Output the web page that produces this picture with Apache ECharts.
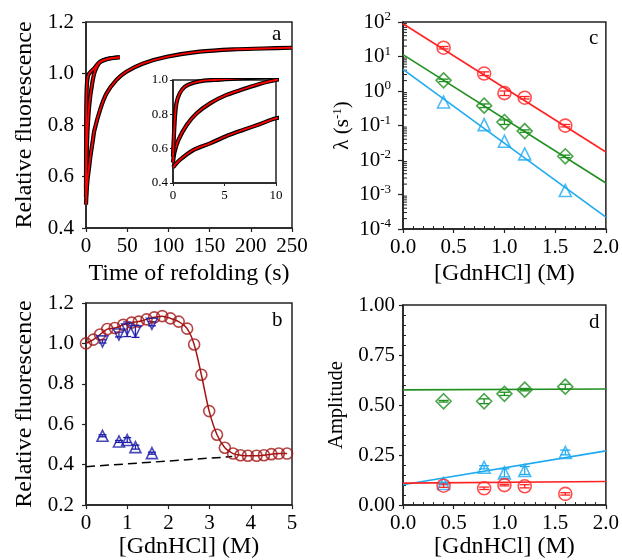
<!DOCTYPE html>
<html><head><meta charset="utf-8">
<script src="https://cdn.jsdelivr.net/npm/echarts@6/dist/echarts.min.js"></script>
<style>html,body{margin:0;padding:0;background:#fff}#c{width:622px;height:560px}</style>
</head><body><div id="c"></div>
<script>
// ---------- Panel a: refolding kinetic traces ----------
const aTimeA  = [0, 0.17, 0.33, 0.65, 1.16, 2.0, 3.0, 4.0, 6.0, 10, 17, 29, 41];
const aFluorA = [0.553, 0.767, 0.864, 0.922, 0.961, 0.984, 0.996, 1.0, 1.008, 1.02, 1.046, 1.059, 1.063];
const aTimeB  = [0, 0.15, 0.52, 1.33, 2.3, 3.6, 5.2, 6.8, 8.4, 10, 13, 17, 29, 41];
const aFluorB = [0.52, 0.58, 0.65, 0.738, 0.806, 0.864, 0.913, 0.946, 0.977, 1.0, 1.025, 1.044, 1.058, 1.063];
const aTimeC  = [0, 0.65, 1.97, 3.6, 5.2, 6.8, 8.4, 10, 17, 25, 37, 49, 69.5, 98, 138, 179, 215, 250];
const aFluorC = [0.491, 0.534, 0.592, 0.631, 0.674, 0.709, 0.742, 0.777, 0.858, 0.923, 0.975, 1.007, 1.039, 1.065, 1.085, 1.094, 1.097, 1.100];

// ---------- Panel b: equilibrium / kinetic amplitudes ----------
const bDen      = [0, 0.178, 0.34, 0.517, 0.70, 0.905, 1.107, 1.28, 1.47, 1.656, 1.85, 2.05, 2.25, 2.455, 2.625, 2.80, 2.99, 3.18, 3.37, 3.57, 3.75, 3.93, 4.14, 4.32, 4.50, 4.68, 4.88];
const bEquil    = [1.0, 1.019, 1.044, 1.071, 1.076, 1.092, 1.103, 1.108, 1.119, 1.129, 1.135, 1.124, 1.108, 1.073, 0.995, 0.845, 0.665, 0.548, 0.484, 0.455, 0.447, 0.444, 0.444, 0.447, 0.452, 0.455, 0.455];
const bKinDen   = [0.4, 0.8, 1.0, 1.2, 1.6];
const bFinal    = [1.01, 1.044, 1.07, 1.06, 1.097];
const bFinalErr = [0.008, 0.012, 0.036, 0.03, 0.01];
const bInitial  = [0.543, 0.515, 0.522, 0.487, 0.457];
const bInitErr  = [0.005, 0.005, 0.012, 0.01, 0.005];
const bBaseX    = [0, 3.55];
const bBaseY    = [0.39, 0.44];

// ---------- Panel c: rate constants ----------
const cDen      = [0.4, 0.8, 1.0, 1.2, 1.6];
const cFast     = [18, 3.2, 0.87, 0.64, 0.099];
const cMid      = [2.04, 0.376, 0.126, 0.069, 0.0128];
const cSlow     = [0.48, 0.106, 0.035, 0.015, 0.0013];
const cRelErr   = [0.08, 0.12, 0.15, 0.08, 0.08];
const cFitX     = [0, 2.0];
const cFitFast  = [89, 0.017];
const cFitMid   = [11.3, 0.00215];
const cFitSlow  = [4.25, 0.00022];
const cLogMinor = [];
for (let e = -4; e < 2; e++) for (let m = 2; m <= 9; m++) cLogMinor.push(m * Math.pow(10, e));

// ---------- Panel d: amplitudes ----------
const dDen      = [0.4, 0.8, 1.0, 1.2, 1.6];
const dMid      = [0.519, 0.519, 0.556, 0.577, 0.592];
const dMidErr   = [0.004, 0.012, 0.008, 0.006, 0.012];
const dSlow     = [0.108, 0.189, 0.161, 0.173, 0.263];
const dSlowErr  = [0.006, 0.008, 0.02, 0.02, 0.012];
const dFast     = [0.097, 0.084, 0.10, 0.094, 0.056];
const dFastErr  = [0.008, 0.006, 0.004, 0.008, 0.006];
const dFitX     = [0, 2.0];
const dFitMid   = [0.576, 0.58];
const dFitSlow  = [0.102, 0.271];
const dFitFast  = [0.11, 0.118];

const FONT = "'Liberation Serif','Times New Roman',serif";
const zip = (xs, ys) => xs.map((x, i) => [x, ys[i]]);
const MAROON = '#a31515', NAVY = '#1c1ca6', RED = '#ff2222', GREEN = '#1f8f1f', SKY = '#1eaaf0';
const AX = '#222';

function errSeries(xi, yi, xs, ys, es, color, cap, rel) {
  return {
    type: 'custom', xAxisIndex: xi, yAxisIndex: yi, z: 4, silent: true,
    data: xs.map((x, i) => [x, ys[i], rel ? ys[i] * es[i] : es[i]]),
    encode: {x: 0, y: 1},
    renderItem: (params, api) => {
      const x = api.value(0), y = api.value(1), e = api.value(2);
      const c = api.coord([x, y]), t = api.coord([x, y + e]), b = api.coord([x, y - e]);
      const st = {stroke: color, lineWidth: 1.3};
      return {type: 'group', children: [
        {type: 'line', shape: {x1: c[0], y1: t[1], x2: c[0], y2: b[1]}, style: st},
        {type: 'line', shape: {x1: c[0] - cap, y1: t[1], x2: c[0] + cap, y2: t[1]}, style: st},
        {type: 'line', shape: {x1: c[0] - cap, y1: b[1], x2: c[0] + cap, y2: b[1]}, style: st}
      ]};
    }
  };
}
function scatter(xi, yi, xs, ys, color, symbol, size, rot) {
  return {type: 'scatter', xAxisIndex: xi, yAxisIndex: yi, data: zip(xs, ys), symbol, symbolSize: size,
    symbolRotate: rot || 0, z: 5,
    itemStyle: {color: 'rgba(255,255,255,0)', borderColor: color, borderWidth: 1.6}};
}
function line(xi, yi, xs, ys, color, w, extra) {
  return Object.assign({type: 'line', xAxisIndex: xi, yAxisIndex: yi, data: zip(xs, ys), showSymbol: false,
    symbol: 'none', lineStyle: {color, width: w}, clip: true, z: 3}, extra || {});
}
function trace(xi, yi, xs, ys) {
  return [line(xi, yi, xs, ys, '#000', 4.2, {smooth: 0.3}), line(xi, yi, xs, ys, '#ff0000', 1.8, {smooth: 0.3, z: 4})];
}

function valAxis(gi, o) {
  return Object.assign({
    type: 'value', gridIndex: gi, nameLocation: 'middle',
    nameTextStyle: {fontFamily: FONT, fontSize: 24, color: '#000'},
    axisLine: {show: true, onZero: false, lineStyle: {color: AX, width: 1.5}},
    axisTick: {show: true, length: 4, lineStyle: {color: AX, width: 1.2}},
    axisLabel: {fontFamily: FONT, fontSize: 21, color: '#000', margin: 8},
    splitLine: {show: false}
  }, o);
}
const gridBase = {show: true, borderColor: AX, borderWidth: 1.5, backgroundColor: 'transparent'};
const minor = {show: true, splitNumber: 5, length: -3, lineStyle: {color: AX, width: 1}};
const lab = (o) => Object.assign({fontFamily: FONT, fontSize: 21, color: '#000', margin: 8}, o);

const option = {
  animation: false,
  backgroundColor: '#fff',
  grid: [
    Object.assign({left: 86, top: 22, width: 206, height: 206}, gridBase),
    Object.assign({}, gridBase, {left: 173, top: 80, width: 103, height: 103, backgroundColor: '#fff', z: 3}),
    Object.assign({left: 86, top: 303, width: 206, height: 206}, gridBase),
    Object.assign({left: 403, top: 22, width: 206, height: 207}, gridBase),
    Object.assign({left: 403, top: 305, width: 206, height: 207}, gridBase)
  ],
  xAxis: [
    valAxis(0, {min: 0, max: 250, interval: 50, name: 'Time of refolding (s)', nameGap: 34}),
    valAxis(1, {min: 0, max: 10, interval: 5, z: 3, axisLabel: lab({fontSize: 13, margin: 6}), axisTick: {length: 3, lineStyle: {color: AX}}}),
    valAxis(2, {min: 0, max: 5, interval: 1, name: '[GdnHCl] (M)', nameGap: 28}),
    valAxis(3, {min: 0, max: 2, interval: 0.5, name: '[GdnHCl] (M)', nameGap: 33, minorTick: minor,
      axisLabel: lab({formatter: v => v.toFixed(1)})}),
    valAxis(4, {min: 0, max: 2, interval: 0.5, name: '[GdnHCl] (M)', nameGap: 26, minorTick: minor,
      axisLabel: lab({formatter: v => v.toFixed(1)})})
  ],
  yAxis: [
    valAxis(0, {min: 0.4, max: 1.2, interval: 0.2, name: 'Relative fluorescence', nameGap: 49,
      axisLabel: lab({margin: 12, formatter: v => v.toFixed(1)})}),
    valAxis(1, {min: 0.4, max: 1.0, interval: 0.2, z: 3,
      axisLabel: lab({fontSize: 13, margin: 5, formatter: v => v.toFixed(1)}), axisTick: {length: 3, lineStyle: {color: AX}}}),
    valAxis(2, {min: 0.2, max: 1.2, interval: 0.2, name: 'Relative fluorescence', nameGap: 49,
      axisLabel: lab({margin: 12, formatter: v => v.toFixed(1)})}),
    valAxis(3, {type: 'log', logBase: 10, min: 1e-4, max: 100, splitNumber: 6, name: 'λ (s{sup|-1})', nameGap: 49,
      nameTextStyle: {fontFamily: FONT, fontSize: 21, color: '#000', rich: {sup: {fontFamily: FONT, fontSize: 13, padding: [0, 0, 10, 0]}}},
      axisTick: {show: true, length: 5, lineStyle: {color: AX, width: 1.2}},
      axisLabel: lab({margin: 12,
        formatter: v => '10{sup|' + Math.round(Math.log10(v)) + '}',
        rich: {sup: {fontFamily: FONT, fontSize: 13, color: '#000', padding: [0, 0, 10, 0]}}})}),
    valAxis(4, {min: 0, max: 1, interval: 0.25, name: 'Amplitude', nameGap: 56, minorTick: minor,
      nameTextStyle: {fontFamily: FONT, fontSize: 20.5, color: '#000'},
      axisLabel: lab({formatter: v => v.toFixed(2)})})
  ],
  graphic: [
    {type: 'text', left: 272, top: 24, style: {text: 'a', font: '21px ' + FONT, fill: '#000'}},
    {type: 'text', left: 272, top: 310, style: {text: 'b', font: '21px ' + FONT, fill: '#000'}},
    {type: 'text', left: 589, top: 28, style: {text: 'c', font: '21px ' + FONT, fill: '#000'}},
    {type: 'text', left: 589, top: 312, style: {text: 'd', font: '21px ' + FONT, fill: '#000'}}
  ],
  series: [
    // panel a main
    ...trace(0, 0, aTimeC, aFluorC),
    ...trace(0, 0, aTimeB, aFluorB),
    ...trace(0, 0, aTimeA, aFluorA),
    // inset
    ...trace(1, 1, aTimeC, aFluorC).map(s => Object.assign(s, {z: 6})),
    ...trace(1, 1, aTimeB, aFluorB).map(s => Object.assign(s, {z: 6})),
    ...trace(1, 1, aTimeA, aFluorA).map(s => Object.assign(s, {z: 6})),
    // panel b
    line(2, 2, bBaseX, bBaseY, '#000', 1.5, {lineStyle: {color: '#000', width: 1.5, type: [9, 5]}}),
    line(2, 2, bDen, bEquil, MAROON, 1.5, {smooth: 0.3}),
    scatter(2, 2, bDen, bEquil, MAROON, 'circle', 11),
    errSeries(2, 2, bKinDen, bFinal, bFinalErr, NAVY, 4),
    scatter(2, 2, bKinDen, bFinal, NAVY, 'triangle', 11, 180),
    errSeries(2, 2, bKinDen, bInitial, bInitErr, NAVY, 4),
    scatter(2, 2, bKinDen, bInitial, NAVY, 'triangle', 11),
    // panel c
    {type: 'custom', xAxisIndex: 3, yAxisIndex: 3, silent: true, z: 2, data: cLogMinor.map(v => [0, v]),
      encode: {x: 0, y: 1},
      renderItem: (p, api) => { const pt = api.coord([0, api.value(1)]);
        return {type: 'line', shape: {x1: pt[0], y1: pt[1], x2: pt[0] + 4, y2: pt[1]}, style: {stroke: AX, lineWidth: 1}}; }},
    line(3, 3, cFitX, cFitFast, RED, 1.6),
    line(3, 3, cFitX, cFitMid, GREEN, 1.6),
    line(3, 3, cFitX, cFitSlow, SKY, 1.6),
    errSeries(3, 3, cDen, cFast, cRelErr, RED, 5, true),
    scatter(3, 3, cDen, cFast, RED, 'circle', 13),
    errSeries(3, 3, cDen, cMid, cRelErr, GREEN, 5, true),
    scatter(3, 3, cDen, cMid, GREEN, 'diamond', 15),
    scatter(3, 3, cDen, cSlow, SKY, 'triangle', 12),
    // panel d
    line(4, 4, dFitX, dFitMid, GREEN, 1.6),
    line(4, 4, dFitX, dFitSlow, SKY, 1.6),
    line(4, 4, dFitX, dFitFast, RED, 1.6),
    errSeries(4, 4, dDen, dMid, dMidErr, GREEN, 5),
    scatter(4, 4, dDen, dMid, GREEN, 'diamond', 15),
    errSeries(4, 4, dDen, dSlow, dSlowErr, SKY, 5),
    scatter(4, 4, dDen, dSlow, SKY, 'triangle', 12),
    errSeries(4, 4, dDen, dFast, dFastErr, RED, 5),
    scatter(4, 4, dDen, dFast, RED, 'circle', 13)
  ]
};
echarts.init(document.getElementById('c'), null, {renderer: 'canvas'}).setOption(option);
</script></body></html>
